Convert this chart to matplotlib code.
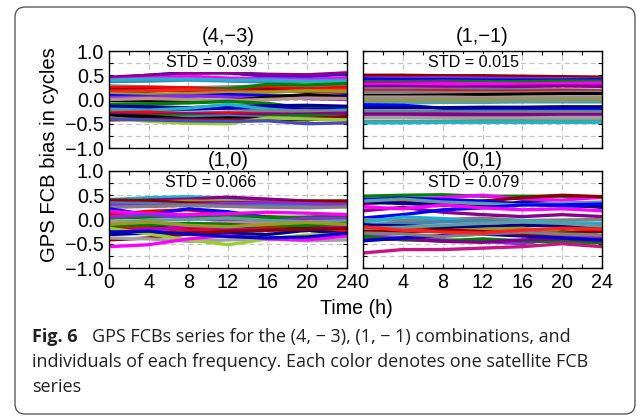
import matplotlib
matplotlib.use("Agg")
import matplotlib.pyplot as plt
from matplotlib.patches import FancyBboxPatch
from matplotlib.ticker import MultipleLocator

plt.rcParams["font.family"] = ["Liberation Sans", "DejaVu Sans"]

# Epoch times (hours) of the FCB samples
hours = [0, 4, 8, 12, 16, 20, 24]

# Panel titles and STD annotations
titles = ["(4,\u22123)", "(1,\u22121)", "(1,0)", "(0,1)"]
std_labels = ["STD = 0.039", "STD = 0.015", "STD = 0.066", "STD = 0.079"]

xticks = [0, 4, 8, 12, 16, 20, 24]
yticks = [1.0, 0.5, 0.0, -0.5, -1.0]
ytick_labels = ["1.0", "0.5", "0.0", "\u22120.5", "\u22121.0"]

# FCB series (cycles), one row per satellite
fcb_4m3 = [
    [0.44, 0.50, 0.56, 0.55, 0.48, 0.47, 0.53],
    [0.46, 0.50, 0.54, 0.55, 0.52, 0.51, 0.55],
    [0.41, 0.44, 0.48, 0.44, 0.43, 0.42, 0.45],
    [0.37, 0.38, 0.40, 0.38, 0.36, 0.38, 0.40],
    [0.40, 0.42, 0.42, 0.40, 0.40, 0.38, 0.38],
    [0.28, 0.26, 0.24, 0.26, 0.28, 0.27, 0.30],
    [0.24, 0.25, 0.24, 0.21, 0.24, 0.22, 0.25],
    [0.20, 0.20, 0.17, 0.18, 0.20, 0.16, 0.15],
    [0.14, 0.17, 0.20, 0.22, 0.31, 0.30, 0.33],
    [0.17, 0.18, 0.20, 0.18, 0.16, 0.18, 0.20],
    [0.12, 0.10, 0.12, 0.14, 0.15, 0.18, 0.17],
    [0.08, 0.06, 0.07, 0.10, 0.08, 0.06, 0.08],
    [0.04, 0.05, 0.08, 0.05, 0.03, 0.02, 0.00],
    [-0.02, -0.03, -0.05, -0.03, 0.05, 0.10, 0.05],
    [0.00, 0.02, 0.00, -0.02, 0.00, 0.03, 0.02],
    [-0.10, -0.09, -0.07, -0.04, -0.08, -0.18, -0.15],
    [-0.14, -0.15, -0.17, -0.14, -0.13, -0.12, -0.14],
    [-0.18, -0.20, -0.20, -0.18, -0.17, -0.20, -0.20],
    [-0.20, -0.22, -0.18, -0.10, -0.20, -0.25, -0.22],
    [-0.24, -0.26, -0.28, -0.26, -0.24, -0.23, -0.26],
    [-0.28, -0.26, -0.30, -0.28, -0.30, -0.32, -0.30],
    [-0.30, -0.32, -0.30, -0.33, -0.30, -0.30, -0.28],
    [-0.33, -0.34, -0.33, -0.36, -0.35, -0.33, -0.35],
    [-0.35, -0.38, -0.36, -0.34, -0.38, -0.38, -0.36],
    [-0.33, -0.35, -0.40, -0.38, -0.40, -0.42, -0.36],
    [-0.42, -0.41, -0.40, -0.42, -0.40, -0.39, -0.36],
    [-0.38, -0.45, -0.49, -0.50, -0.38, -0.40, -0.42],
    [-0.40, -0.42, -0.44, -0.45, -0.44, -0.50, -0.48],
]

fcb_1m1 = [
    [0.50, 0.50, 0.49, 0.49, 0.48, 0.47, 0.46],
    [0.44, 0.44, 0.45, 0.44, 0.43, 0.43, 0.42],
    [0.42, 0.41, 0.41, 0.40, 0.40, 0.40, 0.41],
    [0.37, 0.37, 0.38, 0.37, 0.37, 0.38, 0.38],
    [0.34, 0.34, 0.35, 0.31, 0.30, 0.30, 0.31],
    [0.30, 0.31, 0.32, 0.33, 0.32, 0.33, 0.34],
    [0.27, 0.27, 0.26, 0.26, 0.27, 0.28, 0.27],
    [0.22, 0.22, 0.21, 0.21, 0.20, 0.20, 0.19],
    [0.18, 0.18, 0.18, 0.17, 0.17, 0.18, 0.17],
    [0.15, 0.15, 0.14, 0.14, 0.14, 0.15, 0.15],
    [0.08, 0.08, 0.09, 0.10, 0.11, 0.12, 0.12],
    [0.05, 0.05, 0.05, 0.04, 0.05, 0.05, 0.05],
    [0.02, 0.02, 0.03, 0.02, 0.02, 0.03, 0.03],
    [-0.03, -0.03, -0.02, -0.02, -0.02, -0.01, -0.01],
    [-0.07, -0.07, -0.06, -0.06, -0.05, -0.05, -0.05],
    [-0.11, -0.12, -0.18, -0.21, -0.21, -0.20, -0.20],
    [-0.17, -0.17, -0.17, -0.16, -0.16, -0.15, -0.15],
    [-0.24, -0.24, -0.24, -0.24, -0.24, -0.24, -0.24],
    [-0.27, -0.27, -0.28, -0.28, -0.27, -0.27, -0.27],
    [-0.30, -0.30, -0.30, -0.31, -0.31, -0.31, -0.31],
    [-0.33, -0.33, -0.34, -0.34, -0.34, -0.35, -0.34],
    [-0.37, -0.37, -0.38, -0.38, -0.38, -0.37, -0.37],
    [-0.45, -0.45, -0.45, -0.44, -0.44, -0.44, -0.44],
    [-0.48, -0.48, -0.47, -0.47, -0.47, -0.47, -0.47],
]

fcb_10 = [
    [0.41, 0.45, 0.47, 0.44, 0.41, 0.37, 0.37],
    [0.36, 0.40, 0.42, 0.46, 0.42, 0.38, 0.36],
    [0.37, 0.36, 0.38, 0.37, 0.36, 0.37, 0.38],
    [0.40, 0.39, 0.34, 0.34, 0.36, 0.38, 0.38],
    [0.34, 0.33, 0.30, 0.30, 0.31, 0.30, 0.31],
    [0.30, 0.28, 0.30, 0.33, 0.35, 0.33, 0.30],
    [0.25, 0.27, 0.29, 0.27, 0.25, 0.24, 0.26],
    [0.10, 0.17, 0.20, 0.10, 0.06, 0.02, 0.06],
    [0.22, 0.10, 0.22, 0.16, 0.04, 0.02, 0.05],
    [0.03, 0.05, 0.07, 0.08, 0.04, 0.05, 0.08],
    [0.17, 0.12, 0.10, 0.12, 0.15, 0.13, 0.10],
    [0.05, 0.10, 0.03, -0.02, -0.04, 0.02, 0.02],
    [-0.05, -0.02, 0.00, 0.03, -0.02, -0.05, -0.03],
    [-0.11, -0.15, -0.20, -0.18, -0.20, -0.14, -0.20],
    [-0.05, -0.08, -0.10, -0.06, -0.08, -0.10, -0.12],
    [-0.15, -0.12, -0.08, -0.10, -0.14, -0.12, -0.08],
    [-0.20, -0.18, -0.22, -0.24, -0.18, -0.22, -0.25],
    [-0.25, -0.20, -0.15, -0.18, -0.22, -0.20, -0.15],
    [-0.31, -0.28, -0.28, -0.28, -0.31, -0.22, -0.30],
    [-0.42, -0.38, -0.30, -0.24, -0.22, -0.20, -0.18],
    [-0.38, -0.40, -0.45, -0.42, -0.40, -0.44, -0.42],
    [-0.18, -0.30, -0.42, -0.52, -0.40, -0.32, -0.30],
    [-0.56, -0.52, -0.40, -0.33, -0.40, -0.42, -0.34],
    [-0.26, -0.24, -0.30, -0.35, -0.38, -0.36, -0.28],
    [-0.10, -0.05, -0.12, -0.15, -0.10, -0.06, -0.10],
]

fcb_01 = [
    [0.48, 0.50, 0.51, 0.48, 0.48, 0.48, 0.45],
    [0.31, 0.40, 0.45, 0.50, 0.42, 0.40, 0.46],
    [0.34, 0.36, 0.30, 0.38, 0.45, 0.50, 0.47],
    [0.41, 0.44, 0.41, 0.38, 0.32, 0.28, 0.27],
    [0.36, 0.33, 0.30, 0.27, 0.36, 0.32, 0.25],
    [0.38, 0.42, 0.36, 0.33, 0.30, 0.34, 0.36],
    [0.18, 0.25, 0.15, 0.10, 0.06, 0.10, 0.06],
    [0.03, 0.10, 0.20, 0.24, 0.30, 0.30, 0.32],
    [0.26, 0.22, 0.30, 0.24, 0.20, 0.22, 0.18],
    [0.00, -0.02, 0.00, 0.03, -0.02, -0.01, 0.00],
    [-0.05, 0.05, 0.02, -0.05, -0.02, -0.06, -0.08],
    [-0.10, -0.08, -0.05, -0.02, -0.06, -0.10, -0.12],
    [-0.11, -0.18, -0.18, -0.28, -0.28, -0.20, -0.34],
    [-0.21, -0.18, -0.14, -0.20, -0.30, -0.34, -0.38],
    [-0.12, -0.13, -0.15, -0.14, -0.12, -0.13, -0.15],
    [-0.32, -0.38, -0.42, -0.45, -0.50, -0.38, -0.34],
    [-0.35, -0.42, -0.44, -0.40, -0.44, -0.46, -0.48],
    [-0.69, -0.62, -0.62, -0.59, -0.56, -0.50, -0.56],
    [-0.42, -0.40, -0.45, -0.47, -0.42, -0.40, -0.44],
    [-0.44, -0.38, -0.33, -0.30, -0.34, -0.38, -0.42],
    [-0.16, -0.22, -0.24, -0.20, -0.18, -0.26, -0.22],
    [-0.24, -0.26, -0.22, -0.25, -0.30, -0.28, -0.24],
    [-0.28, -0.30, -0.35, -0.30, -0.26, -0.30, -0.32],
    [-0.18, -0.16, -0.12, -0.08, -0.05, -0.08, -0.14],
    [-0.15, -0.22, -0.26, -0.28, -0.22, -0.18, -0.20],
]

# Line colours, one per satellite row
colors_4m3 = ["#0000ff", "#8b008b", "#ff00ff", "#4682b4", "#20b2c8", "#808080",
              "#ff0000", "#8b0000", "#008000", "#ff2020", "#9a9a20", "#0000ff",
              "#8a2be2", "#000000", "#bc8f8f", "#008000", "#00008b", "#0000cd",
              "#20b2c8", "#808080", "#ff0000", "#8b008b", "#008000", "#4682b4",
              "#000000", "#8b0000", "#9acd32", "#4b4bb4"]
colors_1m1 = ["#8b0000", "#8a2be2", "#0000ff", "#008000", "#c000c0", "#ff00ff",
              "#8b008b", "#4682b4", "#ff0000", "#808080", "#000000", "#bc8f8f",
              "#909090", "#9a9a20", "#5f9ea0", "#0000ff", "#00008b", "#4682b4",
              "#808080", "#800080", "#8b008b", "#a0a0a0", "#6b8e6b", "#20b2c8"]
colors_10 = ["#20b2c8", "#8b008b", "#9a9a20", "#8b0000", "#4682b4", "#8a2be2",
             "#808080", "#ff0000", "#0000ff", "#008000", "#ff00ff", "#8a2be2",
             "#5f9ea0", "#000000", "#bc8f8f", "#008000", "#ff0000", "#c000c0",
             "#00008b", "#8b0000", "#a0a0a0", "#9acd32", "#ff00ff", "#0000cd",
             "#9a9a20"]
colors_01 = ["#008000", "#ff00ff", "#8b0000", "#0000ff", "#00008b", "#5f9ea0",
             "#8b008b", "#0000ff", "#ff00ff", "#808080", "#20b2c8", "#4682b4",
             "#000000", "#ff0000", "#00008b", "#8a2be2", "#008000", "#c71585",
             "#800080", "#0000cd", "#9a9a20", "#8b0000", "#808080", "#5f9ea0",
             "#ff2020"]

panels = [fcb_4m3, fcb_1m1, fcb_10, fcb_01]
panel_colors = [colors_4m3, colors_1m1, colors_10, colors_01]

W, H = 637, 418
fig = plt.figure(figsize=(W / 100, H / 100), dpi=100)

# Rounded frame around the figure and caption
frame = FancyBboxPatch((15, 4), 620, 407,
                       boxstyle="round,pad=0,rounding_size=10",
                       transform=None, facecolor="none",
                       edgecolor="#4a4a4a", linewidth=0.9)
fig.patches.append(frame)

rects = [
    (109, 51, 238, 97),
    (363, 51, 239, 97),
    (109, 171, 238, 97),
    (363, 171, 239, 97),
]
std_x = [10.3, 11.1, 10.3, 11.1]
title_pad = [6.8, 6.8, 3.7, 3.7]

for i, (x0, y0, w, h) in enumerate(rects):
    ax = fig.add_axes([x0 / W, 1 - (y0 + h) / H, w / W, h / H])
    for vals, c in zip(panels[i], panel_colors[i]):
        ax.plot(hours, vals, color=c, lw=2.4, solid_capstyle="round",
                solid_joinstyle="round", zorder=3)
    ax.set_xlim(0, 24)
    ax.set_ylim(-1, 1)
    ax.xaxis.set_major_locator(MultipleLocator(4))
    ax.xaxis.set_minor_locator(MultipleLocator(2))
    ax.set_yticks(yticks)
    ax.yaxis.set_minor_locator(MultipleLocator(0.25))
    ax.tick_params(which="both", direction="in", top=True, right=True,
                   length=2.6, width=0.8, labelsize=14.2, pad=3.5)
    ax.grid(True, axis="x", which="major", color="#c4c4c4",
            linestyle=(0, (4, 3)), lw=0.9, zorder=1)
    ax.grid(True, axis="y", which="both", color="#c4c4c4",
            linestyle=(0, (4, 3)), lw=0.9, zorder=1)
    ax.set_axisbelow(True)
    for s in ax.spines.values():
        s.set_linewidth(1.0)
        s.set_zorder(5)
    if i in (0, 2):
        ax.set_yticklabels(ytick_labels)
    else:
        ax.set_yticklabels([])
    if i in (2, 3):
        ax.set_xticks(xticks)
        ax.set_xticklabels([str(t) for t in xticks])
    else:
        ax.set_xticklabels([])
    ax.set_title(titles[i], fontsize=14.5, pad=title_pad[i])
    ax.text(std_x[i], 0.66, std_labels[i], ha="center", va="baseline",
            fontsize=11.6, zorder=6,
            bbox=dict(facecolor="white", edgecolor="none", pad=1.0))

fig.text(50 / W, 1 - 155 / H, "GPS FCB bias in cycles", rotation=90,
         ha="center", va="center", fontsize=14.6)
fig.text(356.7 / W, 1 - 314 / H, "Time (h)", ha="center", va="baseline",
         fontsize=14.1)

cap_font = ["Open Sans", "DejaVu Sans"]
cap_col = "#231f20"
cap_size = 13.0
fig.text(32 / W, 1 - 342 / H, "Fig. 6", family=cap_font, fontweight="bold",
         fontsize=cap_size, color=cap_col, va="baseline")
fig.text(92 / W, 1 - 342 / H,
         "GPS FCBs series for the (4, \u2212 3), (1, \u2212 1) combinations, and",
         family=cap_font, fontsize=cap_size, color=cap_col, va="baseline")
fig.text(32 / W, 1 - 367 / H,
         "individuals of each frequency. Each color denotes one satellite FCB",
         family=cap_font, fontsize=cap_size, color=cap_col, va="baseline")
fig.text(32 / W, 1 - 392 / H, "series",
         family=cap_font, fontsize=cap_size, color=cap_col, va="baseline")

fig.savefig("out.png", dpi=100)
